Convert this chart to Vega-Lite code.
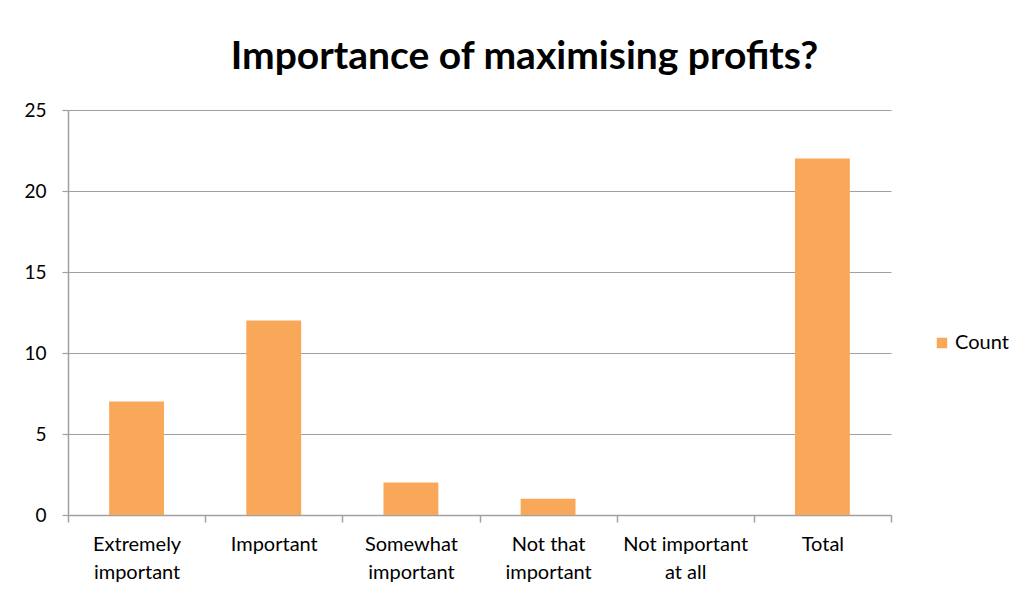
{
  "$schema": "https://vega.github.io/schema/vega-lite/v6.json",
  "autosize": {"type": "none"},
  "padding": {"left": 68, "top": 110, "right": 136, "bottom": 81},
  "width": 823,
  "height": 405,
  "background": "white",
  "title": {
    "text": "Importance of maximising profits?",
    "font": "Lato",
    "fontSize": 39,
    "fontWeight": "bold",
    "color": "#000000",
    "anchor": "middle",
    "dx": 45,
    "offset": 24
  },
  "data": {
    "values": [
      {"category": "Extremely|important", "count": 7},
      {"category": "Important", "count": 12},
      {"category": "Somewhat|important", "count": 2},
      {"category": "Not that|important", "count": 1},
      {"category": "Not important|at all", "count": 0},
      {"category": "Total", "count": 22}
    ]
  },
  "mark": {"type": "bar", "width": {"band": 0.4}},
  "encoding": {
    "x": {
      "field": "category",
      "type": "nominal",
      "sort": null,
      "scale": {"paddingInner": 0, "paddingOuter": 0},
      "axis": {
        "title": null,
        "labelAngle": 0,
        "labelExpr": "split(datum.label, '|')",
        "labelFont": "Lato",
        "labelFontSize": 20,
        "labelColor": "#000000",
        "labelLineHeight": 28,
        "labelPadding": 12,
        "labelBaseline": "top",
        "tickBand": "extent",
        "ticks": true,
        "tickSize": 7,
        "tickColor": "#a0a0a0",
        "tickWidth": 1.5,
        "domainColor": "#a0a0a0",
        "domainWidth": 1.5,
        "grid": false
      }
    },
    "y": {
      "field": "count",
      "type": "quantitative",
      "scale": {"domain": [0, 25], "nice": false},
      "axis": {
        "title": null,
        "values": [0, 5, 10, 15, 20, 25],
        "labelFont": "Lato",
        "labelFontSize": 19,
        "labelColor": "#000000",
        "labelPadding": 16,
        "tickSize": 6,
        "tickColor": "#a0a0a0",
        "tickWidth": 1.2,
        "domainColor": "#a0a0a0",
        "domainWidth": 1.5,
        "grid": true,
        "gridColor": "#a0a0a0",
        "gridWidth": 1.2
      }
    },
    "color": {
      "datum": "Count",
      "type": "nominal",
      "scale": {"range": ["#F9A85A"]},
      "legend": {
        "title": null,
        "orient": "none",
        "legendX": 864,
        "legendY": 223,
        "symbolType": "square",
        "symbolSize": 110,
        "symbolStrokeWidth": 0,
        "labelFont": "Lato",
        "labelFontSize": 20,
        "labelColor": "#000000",
        "labelOffset": 3
      }
    }
  },
  "config": {
    "view": {"stroke": null}
  }
}
